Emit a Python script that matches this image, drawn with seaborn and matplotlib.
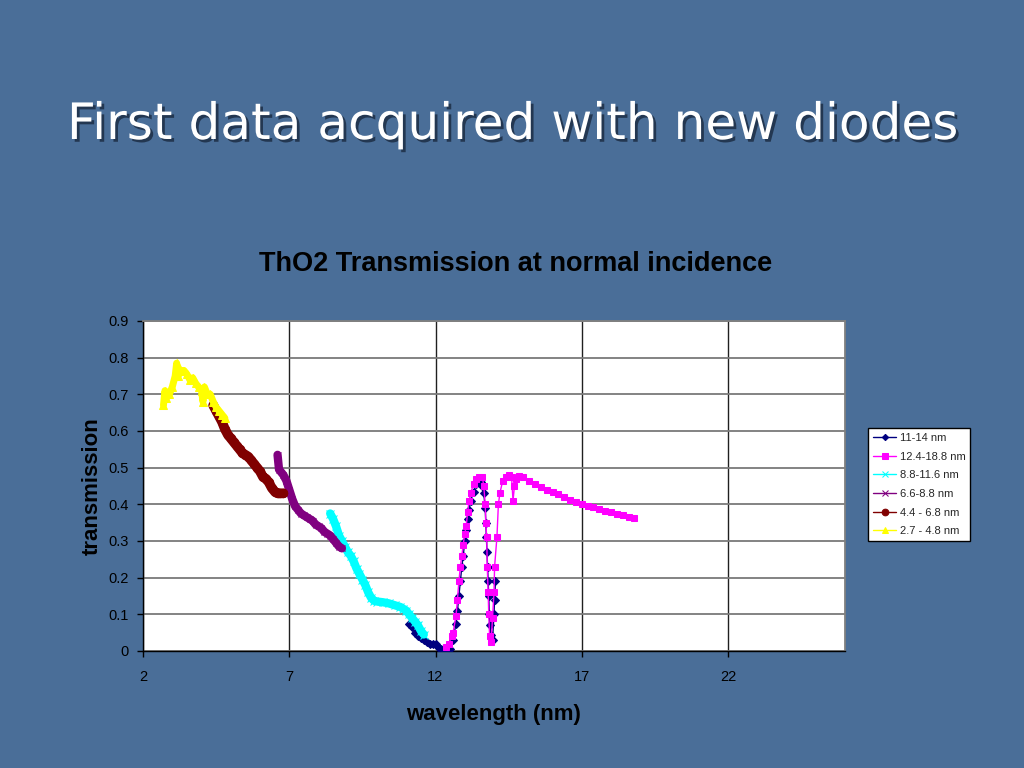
import numpy as np
import pandas as pd
import matplotlib
matplotlib.use("Agg")
import matplotlib.pyplot as plt
import matplotlib.patheffects as pe
import seaborn as sns

# ---- data ----
yellow_x = [2.7, 2.75, 2.8, 2.9, 3.0, 3.1, 3.15, 3.2, 3.3, 3.4, 3.5, 3.6, 3.7, 3.8, 3.9,
            4.0, 4.05, 4.1, 4.2, 4.3, 4.4, 4.5, 4.6, 4.7, 4.8]
yellow_y = [0.67, 0.71, 0.69, 0.70, 0.72, 0.75, 0.785, 0.75, 0.765, 0.765, 0.755, 0.74, 0.745,
            0.73, 0.72, 0.71, 0.68, 0.72, 0.70, 0.70, 0.68, 0.665, 0.655, 0.645, 0.635]

brown_x = [4.4, 4.5, 4.6, 4.7, 4.8, 4.9, 5.0, 5.1, 5.2, 5.3, 5.4, 5.5, 5.6, 5.7, 5.8, 5.9,
           6.0, 6.1, 6.2, 6.3, 6.4, 6.5, 6.6, 6.7, 6.8]
brown_y = [0.67, 0.655, 0.64, 0.625, 0.605, 0.59, 0.58, 0.57, 0.56, 0.55, 0.54, 0.535, 0.53,
           0.52, 0.51, 0.50, 0.49, 0.475, 0.47, 0.46, 0.445, 0.435, 0.43, 0.43, 0.43]

purple_x = [6.6, 6.65, 6.8, 6.9, 7.0, 7.1, 7.2, 7.3, 7.4, 7.5, 7.6, 7.7, 7.8, 7.9, 8.0, 8.1,
            8.2, 8.3, 8.4, 8.5, 8.6, 8.7, 8.8]
purple_y = [0.535, 0.495, 0.48, 0.465, 0.44, 0.415, 0.395, 0.385, 0.375, 0.37, 0.365, 0.36,
            0.355, 0.345, 0.34, 0.335, 0.325, 0.32, 0.315, 0.305, 0.295, 0.285, 0.28]

cyan_x = [8.4, 8.5, 8.6, 8.7, 8.8, 8.9, 9.0, 9.1, 9.2, 9.3, 9.4, 9.5, 9.6, 9.7, 9.8, 9.9,
          10.0, 10.2, 10.4, 10.6, 10.8, 10.9, 11.0, 11.1, 11.2, 11.3, 11.4, 11.5, 11.6]
cyan_y = [0.375, 0.36, 0.34, 0.315, 0.30, 0.285, 0.27, 0.26, 0.245, 0.225, 0.21, 0.195, 0.18,
          0.16, 0.145, 0.137, 0.135, 0.133, 0.13, 0.125, 0.12, 0.115, 0.11, 0.10, 0.09, 0.08,
          0.07, 0.055, 0.045]

navy_x = [11.1, 11.2, 11.3, 11.4, 11.5, 11.6, 11.7, 11.8, 11.9, 12.0, 12.1, 12.2, 12.3, 12.4,
          12.5, 12.6, 12.7, 12.75, 12.8, 12.85, 12.9, 12.95, 13.0, 13.05, 13.1, 13.15, 13.2,
          13.3, 13.4, 13.5, 13.55, 13.6, 13.65, 13.7, 13.72, 13.74, 13.76, 13.78, 13.8, 13.82,
          13.84, 13.86, 13.9, 13.95, 14.0, 14.02, 14.05]
navy_y = [0.075, 0.065, 0.05, 0.04, 0.035, 0.03, 0.025, 0.02, 0.018, 0.018, 0.012, 0.005, 0.003,
          0.002, 0.005, 0.03, 0.075, 0.11, 0.15, 0.19, 0.23, 0.26, 0.30, 0.33, 0.36, 0.385, 0.41,
          0.435, 0.455, 0.462, 0.46, 0.45, 0.43, 0.39, 0.35, 0.31, 0.27, 0.23, 0.19, 0.15, 0.10,
          0.07, 0.045, 0.03, 0.10, 0.14, 0.19]

magenta_x = [12.35, 12.45, 12.55, 12.6, 12.7, 12.75, 12.8, 12.85, 12.9, 12.95, 13.0, 13.05, 13.1,
             13.15, 13.2, 13.3, 13.4, 13.5, 13.6, 13.65, 13.7, 13.72, 13.75, 13.77, 13.8, 13.82,
             13.85, 13.9, 13.95, 14.0, 14.02, 14.1, 14.15, 14.2, 14.3, 14.4, 14.5, 14.6, 14.65,
             14.7, 14.75, 14.85, 15.0, 15.2, 15.4, 15.6, 15.8, 16.0, 16.2, 16.4, 16.6, 16.8,
             17.0, 17.2, 17.4, 17.6, 17.8, 18.0, 18.2, 18.4, 18.6, 18.8]
magenta_y = [0.012, 0.02, 0.04, 0.05, 0.095, 0.14, 0.19, 0.23, 0.26, 0.29, 0.32, 0.34, 0.38,
             0.41, 0.43, 0.455, 0.47, 0.475, 0.475, 0.45, 0.40, 0.35, 0.31, 0.23, 0.16, 0.10,
             0.04, 0.025, 0.09, 0.16, 0.23, 0.31, 0.40, 0.43, 0.465, 0.475, 0.48, 0.475, 0.41,
             0.45, 0.47, 0.478, 0.475, 0.465, 0.455, 0.448, 0.44, 0.435, 0.428, 0.42, 0.413,
             0.407, 0.40, 0.396, 0.392, 0.387, 0.383, 0.379, 0.374, 0.37, 0.366, 0.362]

x_ticks = [2, 7, 12, 17, 22]
y_ticks = [0, 0.1, 0.2, 0.3, 0.4, 0.5, 0.6, 0.7, 0.8, 0.9]

series = [
    ("11-14 nm", navy_x, navy_y, "#000080", "D", 4.0, 1.0),
    ("12.4-18.8 nm", magenta_x, magenta_y, "#FF00FF", "s", 5.0, 1.0),
    ("8.8-11.6 nm", cyan_x, cyan_y, "#00FFFF", "x", 6.0, 6.0),
    ("6.6-8.8 nm", purple_x, purple_y, "#800080", "x", 5.0, 6.0),
    ("4.4 - 6.8 nm", brown_x, brown_y, "#800000", "o", 6.0, 7.0),
    ("2.7 - 4.8 nm", yellow_x, yellow_y, "#FFFF00", "^", 6.0, 5.0),
]

BG = "#4a6e98"
sns.set_theme(style="white")
plt.rcParams['font.family'] = ['Liberation Sans', 'DejaVu Sans']

fig = plt.figure(figsize=(10.24, 7.68), dpi=100, facecolor=BG)
ax = fig.add_axes([143/1024, 1 - 651/768, (845-143)/1024, (651-321)/768])
ax.set_facecolor("white")

for i, (name, xs, ys, col, mk, ms, lw) in enumerate(series):
    df = pd.DataFrame({"x": xs, "y": ys})
    sns.lineplot(data=df, x="x", y="y", ax=ax, color=col, marker=mk, markersize=ms,
                 markeredgecolor=col, markerfacecolor=col, linewidth=lw, sort=False,
                 estimator=None, label=name, zorder=3 + i * 0.1)

ax.set_xlim(2, 26)
ax.set_ylim(0, 0.9)
ax.set_xticks(x_ticks)
ax.set_yticks(y_ticks)
ax.set_yticklabels(["0" if v == 0 else f"{v:.1f}" for v in y_ticks])
ax.grid(True, axis="y", color="#7a7a7a", linewidth=1.3, zorder=1)
ax.grid(True, axis="x", color="#202020", linewidth=1.0, zorder=1)
ax.set_axisbelow(True)
for s in ["top", "right"]:
    ax.spines[s].set_color("#808080")
    ax.spines[s].set_linewidth(1.3)
for s in ["left", "bottom"]:
    ax.spines[s].set_color("black")
    ax.spines[s].set_linewidth(1.0)
ax.tick_params(axis="both", which="both", direction="out", length=4, width=1, color="black",
               labelsize=10.5, labelcolor="black", left=True, bottom=True)
ax.tick_params(axis="x", pad=10)
ax.tick_params(axis="y", pad=6)
ax.set_xlabel("wavelength (nm)", fontsize=16, fontweight="bold", color="black", labelpad=14)
ax.set_ylabel("transmission", fontsize=16, fontweight="bold", color="black", labelpad=4)

leg = ax.legend(loc="upper left", bbox_to_anchor=(868/1024, 1 - 428/768),
                bbox_transform=fig.transFigure, frameon=True, fontsize=8, handlelength=2.1,
                handletextpad=0.3, labelspacing=0.78, borderpad=0.45, fancybox=False,
                markerscale=0.8, framealpha=1.0, borderaxespad=0)
leg.get_frame().set_edgecolor("black")
leg.get_frame().set_linewidth(1.0)
leg.get_frame().set_facecolor("white")
for line in leg.get_lines():
    line.set_linewidth(1.0)

fig.text(516/1024, 1 - 264/768, "ThO2 Transmission at normal incidence", ha="center",
         va="center", fontsize=19.5, fontweight="bold", color="black")

fig.text(67/1024, 1 - 125/768, "First data acquired with new diodes", ha="left", va="center",
         fontsize=36.1, color="white", family=["DejaVu Sans"],
         path_effects=[pe.withSimplePatchShadow(offset=(2, -2), shadow_rgbFace="#1a2a40",
                                                alpha=0.8)])

fig.savefig("out.png", dpi=100, facecolor=BG)
